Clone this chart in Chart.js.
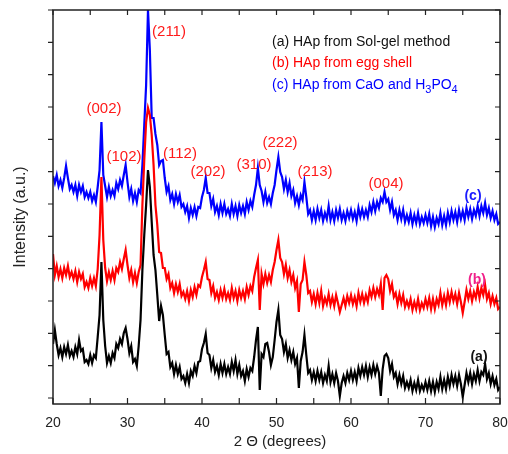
<!DOCTYPE html>
<html>
<head>
<meta charset="utf-8">
<script src="https://cdn.jsdelivr.net/npm/chart.js@4.4.1/dist/chart.umd.min.js"></script>
<style>
  body { margin: 0; background: #fff; }
  #wrap { width: 508px; height: 454px; }
</style>
</head>
<body>
<div id="wrap"><canvas id="xrd"></canvas></div>
<script>
// 2-theta scan: 20 to 80 degrees, step 0.25
const scanStart = 20;
const scanStep = 0.25;
const scanPoints = 241;
const angles = [];
for (let i = 0; i < scanPoints; i++) angles.push(scanStart + i * scanStep);

// (a) HAp from Sol-gel method (a.u.)
const solGel = [
  60,74,60,49,56,47,57,50,59,48,53,47,57,50,64,53,55,42,44,40,
  49,41,49,46,67,89,142,84,58,41,48,41,51,46,60,56,65,60,71,76,
  65,51,58,42,45,38,58,84,134,169,199,234,217,182,149,134,109,83,98,89,
  69,50,52,37,41,30,39,30,37,25,28,21,30,21,33,28,38,31,42,43,
  55,61,70,51,49,36,44,32,38,29,40,31,40,30,37,30,42,33,44,30,
  39,28,33,23,35,27,36,33,47,64,77,14,50,47,60,61,52,39,47,64,
  82,94,69,65,52,60,46,54,44,52,40,46,16,43,52,69,49,31,34,24,
  32,23,33,24,32,21,29,23,38,22,30,21,31,23,8,21,28,21,31,24,
  33,24,32,23,36,28,37,29,38,27,37,29,39,30,38,31,8,35,48,50,
  46,33,40,27,31,20,29,20,28,16,22,16,24,13,21,14,24,13,19,14,
  22,14,23,13,22,12,22,15,27,15,24,15,27,18,29,20,28,18,29,20,
  7,19,31,22,31,20,30,23,34,23,32,29,40,25,31,20,28,19,25,14,
  17
];

// (b) HAp from egg shell
const eggShell = [
  150,129,138,127,135,126,136,129,138,127,132,125,133,122,132,125,130,117,122,116,
  126,118,126,118,135,169,227,164,136,123,132,124,133,124,136,132,142,135,145,154,
  139,126,134,122,131,121,132,139,199,244,282,296,289,269,239,199,179,152,151,136,
  136,125,130,116,121,111,120,112,120,108,112,105,113,103,114,107,117,109,119,117,
  127,134,142,125,124,111,118,106,112,104,114,106,115,105,111,104,116,106,113,103,
  114,106,113,105,117,109,118,113,127,136,144,94,130,120,130,121,129,122,134,142,
  154,164,146,142,130,139,126,134,122,129,116,123,92,120,124,142,129,111,113,102,
  110,100,111,101,113,98,106,100,110,99,107,98,109,101,92,99,106,98,108,101,
  109,100,107,98,111,102,110,101,109,102,114,107,116,107,115,109,120,94,126,129,
  125,113,120,107,111,100,110,101,109,97,103,97,105,94,102,95,105,94,101,96,
  105,97,106,95,105,95,105,99,111,99,108,99,111,102,112,103,110,100,111,102,
  91,102,114,105,113,103,112,106,117,106,116,109,119,105,111,100,108,100,106,95,
  97
];

// (c) HAp from CaO and H3PO4
const caoH3po4 = [
  228,221,229,218,224,216,226,238,226,215,219,212,219,208,219,212,218,207,212,206,
  212,203,209,202,217,234,282,229,218,207,217,208,214,208,221,215,224,218,229,239,
  222,207,215,203,211,202,214,211,239,279,319,394,354,286,286,270,259,239,243,244,
  226,212,218,204,210,200,210,202,209,197,200,192,198,186,196,189,197,188,197,196,
  207,214,226,211,211,198,205,192,198,189,200,191,200,190,195,188,200,190,198,188,
  199,191,198,190,202,194,203,197,209,219,236,219,213,202,212,201,207,200,211,219,
  234,247,232,227,215,224,212,221,208,214,201,208,199,209,204,222,207,190,194,184,
  193,184,195,186,194,183,191,185,198,184,192,183,194,186,195,184,191,183,193,186,
  194,185,192,183,196,187,195,187,194,187,199,192,202,193,202,196,206,202,212,202,
  205,194,202,189,194,184,194,185,194,182,189,182,191,180,189,181,191,180,187,181,
  189,181,190,178,187,177,186,180,191,179,188,179,191,182,193,184,192,182,194,185,
  193,184,196,187,195,185,194,188,198,188,198,191,201,189,196,186,193,184,190,180,
  182
];

const xTickLabels = [20, 30, 40, 50, 60, 70, 80];
const peakLabels = ['(002)', '(102)', '(211)', '(112)', '(202)', '(310)', '(222)', '(213)', '(004)'];

const FONT = '"Liberation Sans", Arial, sans-serif';
const yMax = 394;
const yStep = 394 / 12.186;

function pts(arr) {
  return angles.map((t, i) => ({ x: t, y: arr[i] }));
}

const decor = {
  id: 'decor',
  afterDraw(chart) {
    const { ctx, chartArea: a, scales: { x, y } } = chart;
    ctx.save();
    ctx.strokeStyle = '#222';
    ctx.lineWidth = 1.5;
    ctx.strokeRect(a.left, a.top, a.right - a.left, a.bottom - a.top);

    ctx.lineWidth = 1.2;
    ctx.beginPath();
    for (let v = 20; v <= 80; v += 5) {
      const px = x.getPixelForValue(v);
      ctx.moveTo(px, a.bottom); ctx.lineTo(px, a.bottom - 6);
      ctx.moveTo(px, a.top); ctx.lineTo(px, a.top + 5);
    }
    for (let k = 0; k <= 12; k++) {
      const py = y.getPixelForValue(yMax - k * yStep);
      ctx.moveTo(a.left - 5, py); ctx.lineTo(a.left, py);
      ctx.moveTo(a.right - 5, py); ctx.lineTo(a.right, py);
    }
    ctx.stroke();

    ctx.fillStyle = '#222';
    ctx.font = '14px ' + FONT;
    ctx.textAlign = 'center';
    ctx.textBaseline = 'middle';
    xTickLabels.forEach(v => ctx.fillText(String(v), x.getPixelForValue(v), 423));

    ctx.font = '15px ' + FONT;
    ctx.fillText('2 \u0398 (degrees)', 280, 442);

    ctx.save();
    ctx.translate(21, 217);
    ctx.rotate(-Math.PI / 2);
    ctx.font = '16px ' + FONT;
    ctx.fillText('Intensity (a.u.)', 0, 0);
    ctx.restore();

    // peak indices
    const spots = [[104,109],[124,157],[169,32],[180,154],[208,172],[254,165],[280,143],[315,172],[386,184]];
    ctx.fillStyle = '#ff1a1a';
    ctx.font = '15px ' + FONT;
    peakLabels.forEach((s, i) => ctx.fillText(s, spots[i][0], spots[i][1]));

    // legend text
    ctx.textAlign = 'left';
    ctx.font = '14px ' + FONT;
    ctx.fillStyle = '#111';
    ctx.fillText('(a) HAp from Sol-gel method', 272, 42);
    ctx.fillStyle = '#ff0000';
    ctx.fillText('(b) HAp from egg shell', 272, 63);
    ctx.fillStyle = '#0000ff';
    let cx = 272;
    const part = (t, dy, size) => {
      ctx.font = size + 'px ' + FONT;
      ctx.fillText(t, cx, 85 + dy);
      cx += ctx.measureText(t).width;
    };
    part('(c) HAp from CaO and H', 0, 14);
    part('3', 5, 11);
    part('PO', 0, 14);
    part('4', 5, 11);

    // curve tags
    ctx.textAlign = 'center';
    ctx.font = 'bold 14px ' + FONT;
    ctx.fillStyle = '#1a1aff';
    ctx.fillText('(c)', 473, 196);
    ctx.fillStyle = '#f0208a';
    ctx.fillText('(b)', 477, 280);
    ctx.fillStyle = '#111';
    ctx.fillText('(a)', 479, 357);
    ctx.restore();
  }
};

new Chart(document.getElementById('xrd'), {
  type: 'line',
  data: {
    datasets: [
      { label: '(a) HAp from Sol-gel method', data: pts(solGel), borderColor: '#000000' },
      { label: '(b) HAp from egg shell', data: pts(eggShell), borderColor: '#ff0000' },
      { label: '(c) HAp from CaO and H3PO4', data: pts(caoH3po4), borderColor: '#0000ff' }
    ]
  },
  options: {
    responsive: true,
    maintainAspectRatio: false,
    animation: false,
    layout: { padding: { left: 53, right: 8, top: 10, bottom: 50 } },
    elements: {
      point: { radius: 0 },
      line: { borderWidth: 2.2, tension: 0, borderJoinStyle: 'miter' }
    },
    scales: {
      x: { type: 'linear', min: 20, max: 80, display: false },
      y: { min: 0, max: yMax, display: false }
    },
    plugins: {
      legend: { display: false },
      tooltip: { enabled: false }
    }
  },
  plugins: [decor]
});
</script>
</body>
</html>
